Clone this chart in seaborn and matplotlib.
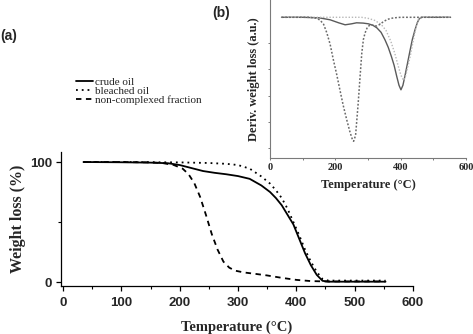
import numpy as np
import pandas as pd
import matplotlib
matplotlib.use("Agg")
import matplotlib.pyplot as plt
from matplotlib.ticker import MultipleLocator, FixedLocator
import seaborn as sns

# ---- TGA: weight remaining (%) against temperature (°C) ----
crude_t = [35, 100, 150, 180, 200, 220, 240, 260, 280, 300, 320, 340, 355, 365,
           375, 385, 395, 405, 415, 425, 435, 445, 455, 500, 553]
crude_w = [100, 99.8, 99.5, 99, 97.5, 95, 92.5, 91, 89.8, 88.3, 86, 80.5, 75, 70,
           64, 56, 48, 36, 24, 14, 6, 1, 0.3, 0.3, 0.3]

bleached_t = [35, 100, 200, 250, 280, 300, 320, 340, 355, 365, 375, 385, 395, 405,
              415, 425, 435, 445, 455, 500, 553]
bleached_w = [100, 100, 99.7, 99.2, 98.5, 97.5, 94.5, 88, 82, 76.5, 70, 61, 50, 39,
              27, 17, 8.5, 2.5, 1.2, 1.2, 1.2]

noncomplex_t = [35, 100, 150, 170, 190, 205, 215, 225, 235, 245, 255, 265, 275, 285,
                295, 310, 330, 350, 375, 400, 425, 450, 500, 553]
noncomplex_w = [100, 100, 99.7, 99.2, 97.5, 94.5, 90, 82.5, 71, 56, 40, 27, 17, 12,
                9.5, 8, 6.8, 5.5, 3.5, 1.8, 0.8, 0.5, 0.5, 0.5]

# ---- DTG: derivative weight loss (arbitrary units, baseline 0) ----
crude_dt = [35, 100, 150, 184, 210, 230, 250, 265, 285, 301, 315, 327, 340, 352, 362,
            372, 380, 388, 395, 401, 407, 413, 421, 429, 436, 444, 451, 457, 465, 553]
crude_d = [0, 0, -0.5, -2.5, -5.5, -7.5, -6.5, -5.5, -5.8, -6.5, -8, -10.5, -15, -22.5,
           -30, -39.5, -48, -59, -68, -72.5, -68, -59, -46, -33, -22, -12.5, -5.5, -1.5,
           0, 0]

bleached_dt = [35, 100, 200, 280, 300, 320, 340, 355, 370, 382, 392, 400, 405, 410,
               416, 423, 430, 437, 444, 450, 456, 465, 553]
bleached_d = [0, 0, 0, 0, -1, -3, -7, -13, -24, -36, -48, -57, -61, -63, -58, -48, -38,
              -26, -15, -6, -1, 0, 0]

noncomplex_dt = [35, 120, 140, 153, 164, 174, 184, 194, 204, 214, 224, 235, 245, 252,
                 256, 262, 270, 276, 281, 286, 291, 298, 306, 316, 327, 337, 347, 360,
                 375, 388, 400, 553]
noncomplex_d = [0, 0, -0.8, -2.7, -7, -15.7, -27, -42.7, -57, -72.7, -88, -102.7, -115,
                -122, -124, -118, -85.7, -58, -35.7, -22, -15.7, -10, -7.7, -8, -8.7, -7,
                -4.4, -2, -0.8, -0.3, 0, 0]

series_labels = ["crude oil", "bleached oil", "non-complexed fraction"]

# axis ticks
main_xticks = [0, 100, 200, 300, 400, 500, 600]
main_yticks = [0, 100]
inset_xticks = [0, 200, 400, 600]
inset_yticks = [-26, -52.2, -78.5, -104.7, -131]

sns.set_style("ticks")
plt.rcParams["font.family"] = ["Liberation Sans", "DejaVu Sans"]

serif_bold = dict(family="Liberation Serif", weight="bold")

fig = plt.figure(figsize=(4.73, 3.34), dpi=100)

# ---------------- panel (a): TGA ----------------
ax = fig.add_axes([0.129, 0.1437, 0.744, 0.401])
sns.lineplot(x=crude_t, y=crude_w, ax=ax, color="black", lw=1.3,
             label=series_labels[0])
sns.lineplot(x=bleached_t, y=bleached_w, ax=ax, color="black", lw=1.3,
             linestyle=(0, (1, 2.2)), label=series_labels[1])
sns.lineplot(x=noncomplex_t, y=noncomplex_w, ax=ax, color="black", lw=1.3,
             linestyle=(0, (3, 2.5)), label=series_labels[2])

ax.set_xlim(-3.5, 600)
ax.set_ylim(-3.3, 108.3)
ax.xaxis.set_major_locator(FixedLocator(main_xticks))
ax.xaxis.set_minor_locator(MultipleLocator(50))
ax.yaxis.set_major_locator(FixedLocator(main_yticks))
ax.yaxis.set_minor_locator(MultipleLocator(50))
for s in ["top", "right"]:
    ax.spines[s].set_visible(False)
for s in ["left", "bottom"]:
    ax.spines[s].set_linewidth(0.9)
    ax.spines[s].set_color("black")
ax.tick_params(which="major", direction="out", length=3.5, width=0.9,
               color="black", pad=3)
ax.tick_params(axis="x", which="major", pad=4.5)
ax.tick_params(which="minor", direction="out", length=2, width=0.8, color="black")
for lab in ax.get_xticklabels() + ax.get_yticklabels():
    lab.set_fontweight("bold")
    lab.set_fontsize(9.5)
ax.set_xlabel("Temperature (°C)", fontsize=10.5, labelpad=8, **serif_bold)
ax.set_ylabel("Weight loss (%)", fontsize=11.5, labelpad=3, **serif_bold)

handles, labels = ax.get_legend_handles_labels()
ax.get_legend().remove()
fig.legend(handles, labels, loc="upper left", bbox_to_anchor=(0.160, 0.768),
           frameon=False, prop=dict(family="Liberation Serif", size=8),
           handlelength=1.55, handletextpad=0.15, labelspacing=-0.08,
           borderpad=0, borderaxespad=0)

# ---------------- panel (b): DTG inset ----------------
ax2 = fig.add_axes([0.571, 0.527, 0.414, 0.473])
ax2.patch.set_alpha(0)
sns.lineplot(x=crude_dt, y=crude_d, ax=ax2, color="#5a5a5a", lw=1.0)
sns.lineplot(x=bleached_dt, y=bleached_d, ax=ax2, color="#b8b8b8", lw=1.0,
             linestyle=(0, (1, 1.3)))
sns.lineplot(x=noncomplex_dt, y=noncomplex_d, ax=ax2, color="#6a6a6a", lw=1.1,
             linestyle=(0, (1.2, 1.2)))

ax2.set_xlim(0, 600)
ax2.set_ylim(-140.7, 17.3)
ax2.xaxis.set_major_locator(FixedLocator(inset_xticks))
ax2.xaxis.set_minor_locator(MultipleLocator(100))
ax2.yaxis.set_major_locator(FixedLocator(inset_yticks))
ax2.set_yticklabels([])
for s in ["top", "right"]:
    ax2.spines[s].set_visible(False)
for s in ["left", "bottom"]:
    ax2.spines[s].set_linewidth(0.8)
    ax2.spines[s].set_color("#7a7a7a")
ax2.tick_params(which="both", direction="out", length=1.5, width=0.7,
                color="#7a7a7a", pad=2)
for lab in ax2.get_xticklabels():
    lab.set_fontsize(7.5)
    lab.set_family("Liberation Serif")
    lab.set_fontweight("bold")
ax2.set_xlabel("Temperature (°C)", fontsize=9, labelpad=5, **serif_bold)
ax2.set_ylabel("Deriv. weight loss (a.u.)", fontsize=9, labelpad=4, **serif_bold)

# panel letters
fig.text(0.0, 1 - 40 / 334, "(a)", fontsize=10, fontweight="bold")
fig.text(212 / 473, 1 - 17 / 334, "(b)", fontsize=10, fontweight="bold")

fig.savefig("out.png", dpi=100)
